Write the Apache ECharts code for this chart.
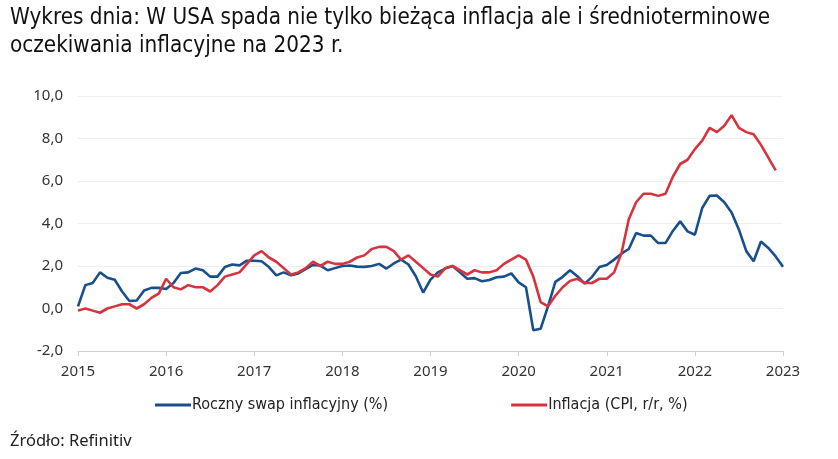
<!DOCTYPE html>
<html>
<head>
<meta charset="utf-8">
<script src="https://cdn.jsdelivr.net/npm/echarts@6/dist/echarts.min.js"></script>
<style>html,body{margin:0;padding:0;background:#fff;}#c{width:838px;height:459px;}</style>
</head>
<body>
<div id="c"></div>
<script>
const years = ['2015','2016','2017','2018','2019','2020','2021','2022','2023'];
const monthsPerYear = 12;
const yTicks = [-2, 0, 2, 4, 6, 8, 10];

const swapSeries = [
  0.1, 1.1, 1.2, 1.7, 1.45, 1.35, 0.8, 0.35, 0.38, 0.85, 0.97, 0.97,
  0.92, 1.2, 1.67, 1.7, 1.88, 1.8, 1.5, 1.5, 1.95, 2.07, 2.03, 2.25,
  2.25, 2.22, 1.95, 1.56, 1.7, 1.56, 1.65, 1.85, 2.05, 2.02, 1.8, 1.9,
  2.0, 2.02, 1.97, 1.96, 2.0, 2.1, 1.88, 2.12, 2.3, 2.07, 1.52, 0.75,
  1.36, 1.7, 1.88, 2.0, 1.7, 1.4, 1.43, 1.28, 1.34, 1.47, 1.5, 1.65,
  1.23, 1.0, -1.02, -0.95, 0.1, 1.25, 1.49, 1.8, 1.52, 1.17, 1.49, 1.95,
  2.05, 2.3, 2.58, 2.8, 3.55, 3.43, 3.43, 3.08, 3.08, 3.65, 4.1, 3.63,
  3.47, 4.73, 5.3, 5.32, 5.0, 4.52, 3.71, 2.7, 2.22, 3.15, 2.85, 2.45,
  1.96
];

const cpiSeries = [
  -0.1, 0.0, -0.1, -0.2, 0.0, 0.1, 0.2, 0.2, 0.0, 0.2, 0.5, 0.7,
  1.4, 1.0, 0.9, 1.1, 1.0, 1.0, 0.8, 1.1, 1.5, 1.6, 1.7, 2.1,
  2.5, 2.7, 2.4, 2.2, 1.9, 1.6, 1.7, 1.9, 2.2, 2.0, 2.2, 2.1,
  2.1, 2.2, 2.4, 2.5, 2.8, 2.9, 2.9, 2.7, 2.3, 2.5, 2.2, 1.9,
  1.6, 1.5, 1.9, 2.0, 1.8, 1.6, 1.8, 1.7, 1.7, 1.8, 2.1, 2.3,
  2.5, 2.3, 1.5, 0.3, 0.1, 0.6, 1.0, 1.3, 1.4, 1.2, 1.2, 1.4,
  1.4, 1.7, 2.6, 4.2, 5.0, 5.4, 5.4, 5.3, 5.4, 6.2, 6.8, 7.0,
  7.5, 7.9, 8.5, 8.3, 8.6, 9.1, 8.5, 8.3, 8.2, 7.7, 7.1, 6.5
];

// month categories built from years
const categories = [];
years.forEach((y, yi) => {
  const n = (yi === years.length - 1) ? 1 : monthsPerYear;
  for (let m = 1; m <= n; m++) categories.push(y + '-' + String(m).padStart(2, '0'));
});

const isYearStart = (idx) => idx % monthsPerYear === 0;
const titleFont = '"Liberation Sans Narrow", "DejaVu Sans Condensed", sans-serif';

const chart = echarts.init(document.getElementById('c'), null, {renderer: 'canvas'});
chart.setOption({
  backgroundColor: '#ffffff',
  animation: false,
  title: {
    text: 'Wykres dnia: W USA spada nie tylko bieżąca inflacja ale i średnioterminowe\noczekiwania inflacyjne na 2023 r.',
    left: 10, top: 4, padding: 0,
    textStyle: {fontFamily: titleFont, fontSize: 22.3, fontWeight: 'normal', color: '#111', lineHeight: 28}
  },
  legend: {
    top: 392, left: 150,
    itemGap: 123, itemWidth: 36, itemHeight: 3,
    icon: 'rect',
    textStyle: {fontFamily: titleFont, fontSize: 16, color: '#222', padding: [0,0,0,-4]},
    data: ['Roczny swap inflacyjny (%)', 'Inflacja (CPI, r/r, %)']
  },
  grid: {left: 78, right: 55, top: 96, bottom: 108, containLabel: false},
  xAxis: [{
    type: 'category', data: categories, boundaryGap: false,
    axisLine: {show: false}, axisTick: {show: false},
    axisLabel: {
      interval: (idx) => isYearStart(idx),
      formatter: (v) => v.slice(0, 4),
      color: '#333', fontSize: 15, margin: 13, fontFamily: '"Noto Sans", sans-serif'
    },
    splitLine: {show: false}
  }, {
    type: 'category', data: categories, boundaryGap: false, position: 'bottom',
    axisLine: {show: true, onZero: true, lineStyle: {color: '#cfcfcf', width: 1}},
    axisTick: {show: true, interval: (idx) => isYearStart(idx), length: 5, lineStyle: {color: '#cfcfcf'}},
    axisLabel: {show: false},
    splitLine: {show: false}
  }],
  yAxis: {
    type: 'value', min: -2, max: 10, interval: 2,
    axisLine: {show: false}, axisTick: {show: false},
    axisLabel: {
      formatter: (v) => v.toFixed(1).replace('.', ','),
      color: '#333', fontSize: 15, margin: 15, fontFamily: '"Noto Sans", sans-serif'
    },
    splitLine: {lineStyle: {color: '#eeeeee', width: 1}}
  },
  series: [{
    name: 'Roczny swap inflacyjny (%)', type: 'line', data: swapSeries,
    showSymbol: false, symbol: 'none',
    lineStyle: {color: '#17508c', width: 2.6}, itemStyle: {color: '#17508c'}
  }, {
    name: 'Inflacja (CPI, r/r, %)', type: 'line', data: cpiSeries,
    showSymbol: false, symbol: 'none',
    lineStyle: {color: '#d7333f', width: 2.6}, itemStyle: {color: '#d7333f'}
  }],
  graphic: [{
    type: 'text', left: 10, top: 433,
    style: {text: 'Źródło: Refinitiv', fontSize: 16.5, fill: '#222', fontFamily: '"Noto Sans", sans-serif'}
  }]
});
</script>
</body>
</html>
